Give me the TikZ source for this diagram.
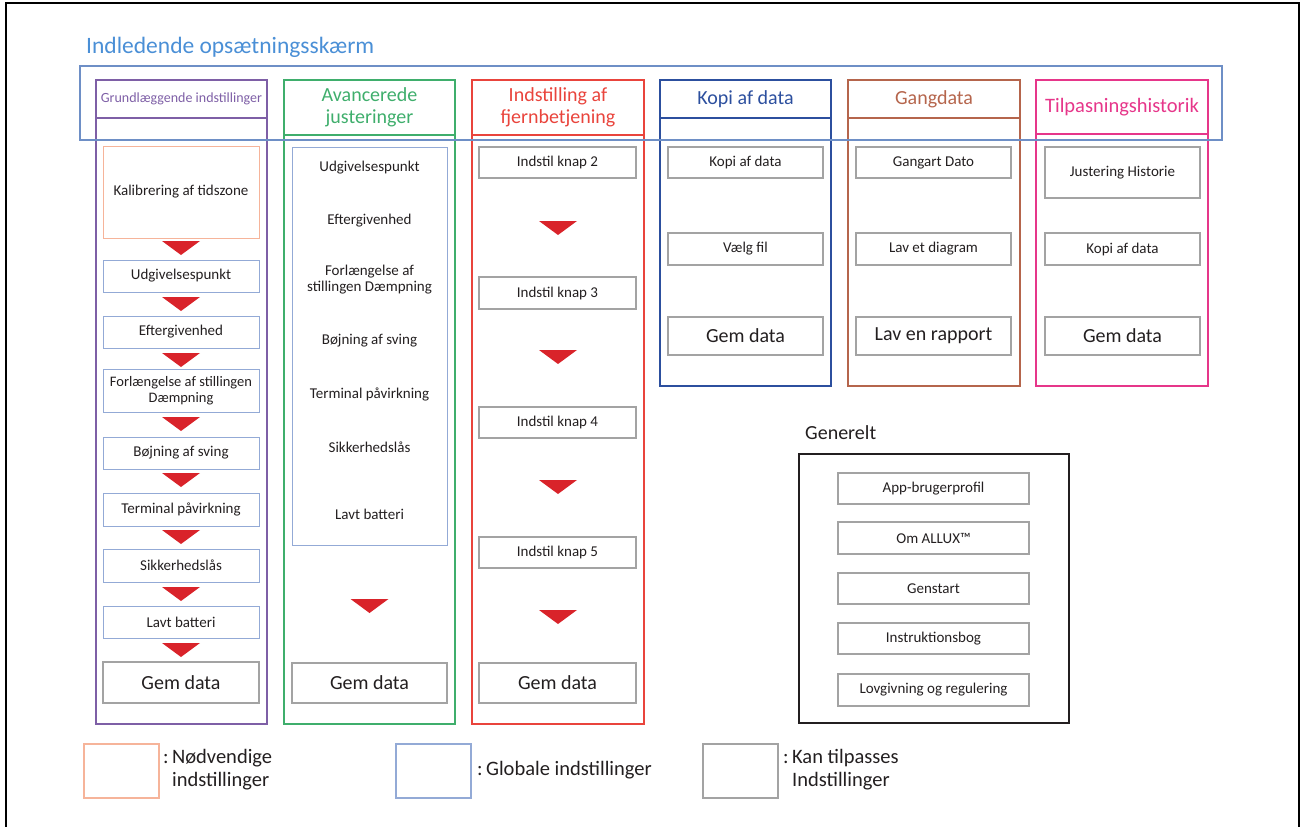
\documentclass[tikz,border=0pt]{standalone}
\usepackage{fontspec}
\setmainfont{Carlito}
\definecolor{titleblue}{HTML}{4A8FD6}
\definecolor{bigblue}{HTML}{6E8FC6}
\definecolor{cpurple}{HTML}{7E5FA6}
\definecolor{cgreen}{HTML}{3FAE6C}
\definecolor{cred}{HTML}{E9443C}
\definecolor{cdblue}{HTML}{2C4F9E}
\definecolor{cbrown}{HTML}{B5654C}
\definecolor{cpink}{HTML}{E6368A}
\definecolor{itemblue}{HTML}{93AAD6}
\definecolor{corange}{HTML}{F6B49A}
\definecolor{grayline}{HTML}{A3A3A3}
\definecolor{trired}{HTML}{D9232A}
\definecolor{txt}{HTML}{231F20}
\begin{document}
\begin{tikzpicture}[x=1pt,y=-1pt,
  col/.style={draw=#1, line width=1.4pt, inner sep=0pt},
  hdr/.style={draw=#1, line width=1.4pt, inner sep=0pt, text=#1, align=center, font=\fontsize{20}{22}\selectfont},
  item/.style={draw, line width=1pt, inner sep=0pt, text=txt, align=center, font=\fontsize{15}{16}\selectfont, minimum width=156pt},
  blueitem/.style={item, draw=itemblue},
  grayitem/.style={item, draw=grayline, line width=1.3pt},
  bigitem/.style={grayitem, line width=1.6pt, font=\fontsize{20}{22}\selectfont},
  plain/.style={inner sep=0pt, text=txt, align=center, font=\fontsize{15}{16}\selectfont},
  legbox/.style={draw=#1, line width=1.2pt, minimum width=75pt, minimum height=54pt, inner sep=0pt},
  legtxt/.style={inner sep=0pt, anchor=west, text=txt, align=left, font=\fontsize{20.5}{23}\selectfont}
]
\newcommand\tri[2]{\fill[trired] ({#1-19},#2) -- ({#1+19},#2) -- (#1,{#2+14}) -- cycle;}
\useasboundingbox (0,0) rectangle (1304,827);
% outer frame
\draw[black, line width=2pt] (6,840) -- (6,3) -- (1299,3) -- (1299,840);
% title
\node[inner sep=0pt, anchor=base west, text=titleblue, font=\fontsize{23.5}{25}\selectfont] (title) at (86,53) {Indledende opsætningsskærm};

% column 1
\node[col=cpurple, minimum width=171pt, minimum height=644pt] (c1) at (181.5,402) {};
\node[hdr=cpurple, minimum width=171pt, minimum height=38pt, font=\fontsize{14}{16}\selectfont] (h1) at (181.5,99) {Grundlæggende indstillinger};
\node[item, draw=corange, minimum height=92pt] (kal) at (181,192) {Kalibrering af tidszone};
\node[blueitem, minimum height=32pt] (u1) at (181,276) {Udgivelsespunkt};
\node[blueitem, minimum height=32pt] (e1) at (181,332) {Eftergivenhed};
\node[blueitem, minimum height=43pt, font=\fontsize{14.5}{15.5}\selectfont] (f1) at (181,390.5) {Forlængelse af stillingen\\Dæmpning};
\node[blueitem, minimum height=32pt] (b1) at (181,453) {Bøjning af sving};
\node[blueitem, minimum height=33pt] (t1) at (181,509.5) {Terminal påvirkning};
\node[blueitem, minimum height=33pt] (s1) at (181,565.5) {Sikkerhedslås};
\node[blueitem, minimum height=32pt] (l1) at (181,622) {Lavt batteri};
\node[bigitem, minimum height=41pt] (g1) at (181,682.5) {Gem data};
\tri{181}{241}\tri{181}{297}\tri{181}{353}\tri{181}{417}
\tri{181}{473}\tri{181}{530}\tri{181}{587}\tri{181}{643}

% column 2
\node[col=cgreen, minimum width=171pt, minimum height=644pt] (c2) at (369.5,402) {};
\node[hdr=cgreen, minimum width=171pt, minimum height=55pt] (h2) at (369.5,107.5) {Avancerede\\justeringer};
\node[col=itemblue, line width=1pt, minimum width=155pt, minimum height=398pt] (adv) at (369.5,346) {};
\node[plain] (a1) at (369.5,168) {Udgivelsespunkt};
\node[plain] (a2) at (369.5,221) {Eftergivenhed};
\node[plain] (a3) at (369.5,280) {Forlængelse af\\stillingen Dæmpning};
\node[plain] (a4) at (369.5,341) {Bøjning af sving};
\node[plain] (a5) at (369.5,394) {Terminal påvirkning};
\node[plain] (a6) at (369.5,447) {Sikkerhedslås};
\node[plain] (a7) at (369.5,514) {Lavt batteri};
\node[bigitem, minimum width=155pt, minimum height=40pt] (g2) at (369.5,683) {Gem data};
\tri{369.5}{599}

% column 3
\node[col=cred, minimum width=172pt, minimum height=644pt] (c3) at (558,402) {};
\node[hdr=cred, minimum width=172pt, minimum height=55pt] (h3) at (558,107.5) {Indstilling af\\fjernbetjening};
\node[grayitem, minimum width=157pt, minimum height=31pt] (k2) at (557.5,162.5) {Indstil knap 2};
\node[grayitem, minimum width=157pt, minimum height=32pt] (k3) at (557.5,293) {Indstil knap 3};
\node[grayitem, minimum width=157pt, minimum height=31pt] (k4) at (557.5,422.5) {Indstil knap 4};
\node[grayitem, minimum width=157pt, minimum height=31pt] (k5) at (557.5,552.5) {Indstil knap 5};
\node[bigitem, minimum width=157pt, minimum height=40pt] (g3) at (557.5,683) {Gem data};
\tri{558}{221}\tri{558}{350}\tri{558}{480}\tri{558}{610}

% column 4
\node[col=cdblue, minimum width=171pt, minimum height=306pt] (c4) at (745.5,233) {};
\node[hdr=cdblue, minimum width=171pt, minimum height=38pt] (h4) at (745.5,99) {Kopi af data};
\node[grayitem, minimum width=155pt, minimum height=31pt] (d1) at (745.5,162.5) {Kopi af data};
\node[grayitem, minimum width=155pt, minimum height=32pt] (d2) at (745.5,249) {Vælg fil};
\node[bigitem, minimum width=155pt, minimum height=38pt] (d3) at (745.5,336) {Gem data};

% column 5
\node[col=cbrown, minimum width=172pt, minimum height=306pt] (c5) at (934,233) {};
\node[hdr=cbrown, minimum width=172pt, minimum height=38pt] (h5) at (934,99) {Gangdata};
\node[grayitem, minimum width=155pt, minimum height=31pt] (w1) at (933.5,162.5) {Gangart Dato};
\node[grayitem, minimum width=155pt, minimum height=32pt] (w2) at (933.5,249) {Lav et diagram};
\node[bigitem, minimum width=155pt, minimum height=38pt] (w3) at (933.5,336) {Lav en rapport};

% column 6
\node[col=cpink, minimum width=172pt, minimum height=306pt] (c6) at (1122,233) {};
\node[hdr=cpink, minimum width=172pt, minimum height=54pt, font=\fontsize{20.5}{22}\selectfont] (h6) at (1122,107) {Tilpasningshistorik};
\node[grayitem, minimum width=155pt, minimum height=51pt] (p1) at (1122.5,172.5) {Justering Historie};
\node[grayitem, minimum width=155pt, minimum height=32pt] (p2) at (1122.5,249) {Kopi af data};
\node[bigitem, minimum width=155pt, minimum height=38pt] (p3) at (1122.5,336) {Gem data};

% initial setup screen frame
\node[draw=bigblue, line width=1.3pt, minimum width=1142pt, minimum height=74pt, inner sep=0pt] (screen) at (651,103) {};

% general
\node[inner sep=0pt, anchor=west, text=txt, font=\fontsize{20}{22}\selectfont] (genlbl) at (805,433) {Generelt};
\node[draw=txt, line width=1.4pt, minimum width=270pt, minimum height=269pt, inner sep=0pt] (gen) at (934,588.5) {};
\node[grayitem, minimum width=191pt, minimum height=31pt] (q1) at (933.5,488.5) {App-brugerprofil};
\node[grayitem, minimum width=191pt, minimum height=32pt] (q2) at (933.5,538) {Om ALLUX™};
\node[grayitem, minimum width=191pt, minimum height=31pt] (q3) at (933.5,588.5) {Genstart};
\node[grayitem, minimum width=191pt, minimum height=31pt] (q4) at (933.5,638.5) {Instruktionsbog};
\node[grayitem, minimum width=191pt, minimum height=32pt] (q5) at (933.5,690) {Lovgivning og regulering};

% legend
\node[legbox=corange] (lg1) at (121.5,771) {};
\node[legtxt] (lt1) at (163,770) {:\,Nødvendige\\\hphantom{:\,}indstillinger};
\node[legbox=itemblue] (lg2) at (433.5,771) {};
\node[legtxt] (lt2) at (477,770) {:\,Globale indstillinger};
\node[legbox=grayline] (lg3) at (740.5,771) {};
\node[legtxt] (lt3) at (783,770) {:\,Kan tilpasses\\\hphantom{:\,}Indstillinger};
\end{tikzpicture}
\end{document}
